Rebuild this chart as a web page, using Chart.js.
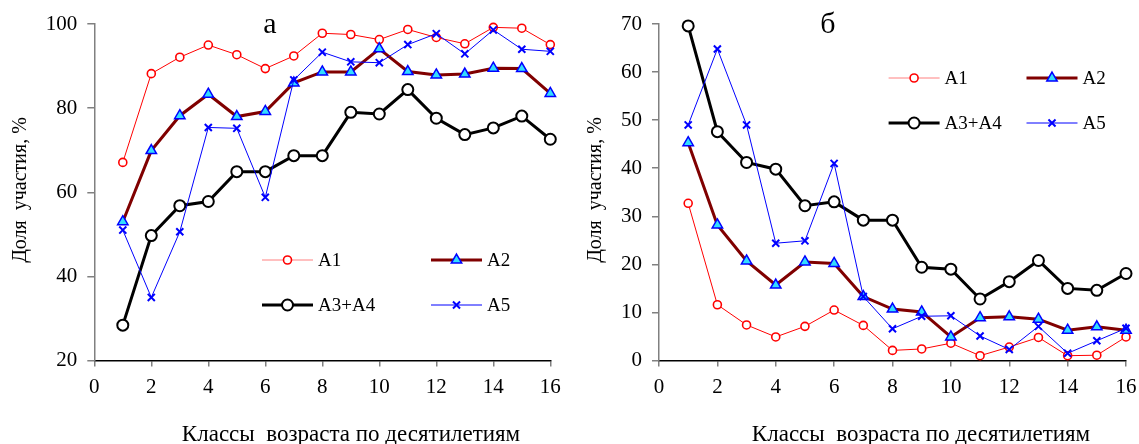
<!DOCTYPE html>
<html>
<head>
<meta charset="utf-8">
<script src="https://cdn.jsdelivr.net/npm/chart.js@4.4.1/dist/chart.umd.min.js"></script>
<style>
  html, body { margin: 0; background: #fff; overflow: hidden; }
  #wrap { position: relative; width: 1139px; height: 444px; overflow: hidden; }
  canvas { position: absolute; top: 0; }
</style>
</head>
<body>
<div id="wrap">
  <canvas id="grafA" width="570" height="444" style="left:0"></canvas>
  <canvas id="grafB" width="600" height="444" style="left:570px"></canvas>
</div>
<script>
// классы возраста (десятилетия)
const classes = [1, 2, 3, 4, 5, 6, 7, 8, 9, 10, 11, 12, 13, 14, 15, 16];
const xTicks = [0, 2, 4, 6, 8, 10, 12, 14, 16];
const seriesNames = ["A1", "A2", "A3+A4", "A5"];

// панель а
const a_A1 = [67.1, 88.2, 92.1, 95.0, 92.7, 89.4, 92.4, 97.8, 97.5, 96.3, 98.7, 96.8, 95.3, 99.2, 99.0, 95.1];
const a_A2 = [53.0, 69.9, 78.2, 83.3, 78.0, 79.2, 86.0, 88.6, 88.6, 94.1, 88.7, 87.9, 88.1, 89.5, 89.4, 83.5];
const a_A34 = [28.4, 49.7, 56.8, 57.8, 64.9, 64.9, 68.7, 68.7, 79.0, 78.6, 84.4, 77.6, 73.7, 75.3, 78.1, 72.6];
const a_A5 = [51.0, 35.0, 50.6, 75.4, 75.2, 58.8, 86.7, 93.3, 91.0, 90.8, 95.1, 97.7, 92.9, 98.6, 94.0, 93.5];

// панель б
const b_A1 = [32.7, 11.6, 7.4, 4.9, 7.1, 10.5, 7.3, 2.1, 2.4, 3.6, 1.0, 2.8, 4.8, 1.0, 1.1, 4.9];
const b_A2 = [45.3, 28.2, 20.7, 15.7, 20.5, 20.2, 13.3, 10.7, 10.1, 4.9, 8.9, 9.1, 8.6, 6.3, 7.0, 6.3];
const b_A34 = [69.6, 47.6, 41.2, 39.8, 32.2, 33.0, 29.2, 29.2, 19.4, 19.0, 12.8, 16.4, 20.8, 15.0, 14.6, 18.1];
const b_A5 = [49.0, 64.8, 49.0, 24.4, 24.9, 41.0, 13.3, 6.6, 9.2, 9.3, 5.1, 2.3, 7.1, 1.5, 4.1, 6.7];

const serif = "'Liberation Serif', 'DejaVu Serif', serif";
const xTitle = "Классы  возраста по десятилетиям";
const yTitle = "Доля  участия, %";

function pts(vals) {
  return vals.map((v, i) => ({ x: classes[i], y: v }));
}

function makeSets(v1, v2, v34, v5) {
  return [
    {
      label: seriesNames[0], data: pts(v1), order: 4, clip: false,
      borderColor: "#ff0000", borderWidth: 1,
      pointStyle: "circle", pointRadius: 4, pointBorderWidth: 1.6,
      pointBackgroundColor: "#ffffff", pointBorderColor: "#ff0000",
      legendLine: "#ff8080"
    },
    {
      label: seriesNames[1], data: pts(v2), order: 3, clip: false,
      borderColor: "#800000", borderWidth: 3,
      pointStyle: "triangle", pointRadius: 6, pointBorderWidth: 1.5,
      pointBackgroundColor: "#33ddff", pointBorderColor: "#0000ff",
      legendLine: "#800000"
    },
    {
      label: seriesNames[2], data: pts(v34), order: 2, clip: false,
      borderColor: "#000000", borderWidth: 3,
      pointStyle: "circle", pointRadius: 5.5, pointBorderWidth: 2,
      pointBackgroundColor: "#ffffff", pointBorderColor: "#000000",
      legendLine: "#000000"
    },
    {
      label: seriesNames[3], data: pts(v5), order: 1, clip: false,
      borderColor: "#0000ff", borderWidth: 1,
      pointStyle: "crossRot", pointRadius: 5, pointBorderWidth: 2,
      pointBackgroundColor: "#0000ff", pointBorderColor: "#0000ff",
      legendLine: "#0000ff"
    }
  ];
}

// легенда внутри поля, буква панели, подписи осей
const insideLegend = {
  id: "insideLegend",
  afterDraw(chart, args, opts) {
    const ctx = chart.ctx;
    ctx.save();
    chart.data.datasets.forEach((ds, i) => {
      const [x, y] = opts.spots[i];
      ctx.strokeStyle = ds.legendLine;
      ctx.lineWidth = ds.borderWidth;
      ctx.beginPath();
      ctx.moveTo(x, y);
      ctx.lineTo(x + 51, y);
      ctx.stroke();
      ctx.fillStyle = ds.pointBackgroundColor;
      ctx.strokeStyle = ds.pointBorderColor;
      ctx.lineWidth = ds.pointBorderWidth;
      Chart.helpers.drawPoint(ctx, {
        pointStyle: ds.pointStyle, radius: ds.pointRadius,
        rotation: 0, borderWidth: ds.pointBorderWidth
      }, x + 25.5, y);
      ctx.fillStyle = "#000";
      ctx.font = "19px " + serif;
      ctx.textBaseline = "middle";
      ctx.textAlign = "left";
      ctx.fillText(ds.label, x + 56, y + 1);
    });

    ctx.fillStyle = "#000";
    ctx.font = "30px " + serif;
    ctx.textAlign = "center";
    ctx.textBaseline = "alphabetic";
    ctx.fillText(opts.letter, opts.letterAt[0], opts.letterAt[1]);

    ctx.font = "23px " + serif;
    ctx.textBaseline = "middle";
    ctx.fillText(xTitle, opts.xTitleAt[0], opts.xTitleAt[1]);

    ctx.font = "20px " + serif;
    ctx.translate(opts.yTitleAt[0], opts.yTitleAt[1]);
    ctx.rotate(-Math.PI / 2);
    ctx.fillText(yTitle, 0, 0);
    ctx.restore();
  }
};

function graficar(id, sets, yMin, yMax, yStep, yWidth, padRight, deco) {
  const el = document.getElementById(id);
  return new Chart(el, {
    type: "line",
    data: { datasets: sets },
    plugins: [insideLegend],
    options: {
      responsive: false,
      animation: false,
      layout: { padding: { top: 24, right: padRight, bottom: 0, left: 0 } },
      plugins: {
        legend: { display: false },
        tooltip: { enabled: false },
        insideLegend: deco
      },
      elements: { line: { tension: 0, fill: false } },
      scales: {
        x: {
          type: "linear", min: 0, max: 16,
          afterBuildTicks: (s) => { s.ticks = xTicks.map((v) => ({ value: v })); },
          afterFit: (s) => { s.height = 83.5; },
          grid: { display: true, drawOnChartArea: false, drawTicks: true, tickLength: 6, color: "#808080", lineWidth: 1.5 },
          border: { display: true, color: "#000000", width: 1.5 },
          ticks: { color: "#000", padding: 8, font: { family: serif, size: 21 } }
        },
        y: {
          min: yMin, max: yMax,
          ticks: { stepSize: yStep, color: "#000", padding: 10, font: { family: serif, size: 21 } },
          afterFit: (s) => { s.width = yWidth; },
          grid: { display: true, drawOnChartArea: false, drawTicks: true, tickLength: 7, color: "#808080", lineWidth: 1.5 },
          border: { display: true, color: "#808080", width: 1.5 }
        }
      }
    }
  });
}

graficar("grafA", makeSets(a_A1, a_A2, a_A34, a_A5), 20, 100, 20, 94.3, 19.7, {
  letter: "а", letterAt: [270, 33],
  xTitleAt: [351, 435], yTitleAt: [21, 190],
  spots: [[262, 260], [431, 260], [262, 305], [431, 305]]
});
graficar("grafB", makeSets(b_A1, b_A2, b_A34, b_A5), 0, 70, 10, 89, 44, {
  letter: "б", letterAt: [258, 33],
  xTitleAt: [351, 435], yTitleAt: [26, 190],
  spots: [[318.6, 78], [456.5, 78], [318.6, 123], [456.5, 123]]
});
</script>
</body>
</html>
